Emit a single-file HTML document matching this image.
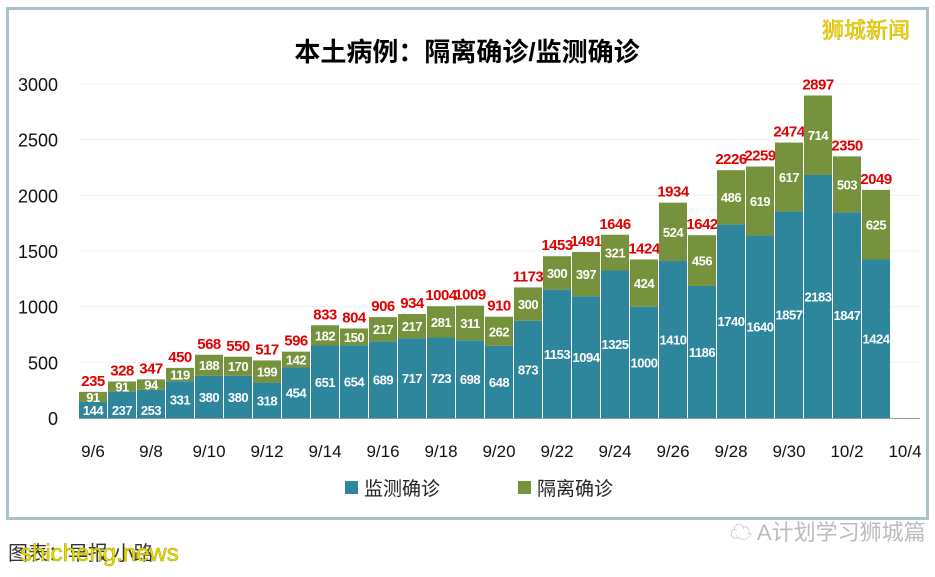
<!DOCTYPE html>
<html><head><meta charset="utf-8">
<style>
body{margin:0;background:#fff;width:935px;height:572px;overflow:hidden;font-family:"Liberation Sans","Noto Sans CJK SC",sans-serif;}
</style></head><body>
<svg id="s" width="935" height="572" xmlns="http://www.w3.org/2000/svg" font-family="Liberation Sans, Noto Sans CJK SC, sans-serif">
<rect x="0" y="0" width="935" height="572" fill="#fff"/>
<rect x="7.5" y="8.5" width="920" height="510" fill="#fff" stroke="#a9c4c8" stroke-width="3"/>
<text x="467" y="61" text-anchor="middle" font-size="26" font-weight="bold" fill="#000">本土病例：隔离确诊/监测确诊</text>
<text x="866" y="38" text-anchor="middle" font-size="22" fill="#f2e200" stroke="#c8a800" stroke-width="0.5">狮城新闻</text>
<g id="g"></g>
<line x1="79" y1="418.5" x2="920" y2="418.5" stroke="#999" stroke-width="1"/>
<rect x="345" y="481" width="13" height="13" fill="#2e869c"/>
<text x="364" y="495" font-size="19" fill="#222">监测确诊</text>
<rect x="518" y="481" width="13" height="13" fill="#76923c"/>
<text x="537" y="495" font-size="19" fill="#222">隔离确诊</text>
<text x="730" y="540" font-size="22" fill="#bbb">☁ A计划学习狮城篇</text>
<text x="8" y="560" font-size="20" fill="#333">图表：早报 小路</text>
<text x="20" y="561" font-size="24" fill="#e6e000" stroke="#aaa000" stroke-width="0.5">shicheng.news</text>
</svg>
<script>
var b=[144,237,253,331,380,380,318,454,651,654,689,717,723,698,648,873,1153,1094,1325,1000,1410,1186,1740,1640,1857,2183,1847,1424];
var q=[91,91,94,119,188,170,199,142,182,150,217,217,281,311,262,300,300,397,321,424,524,456,486,619,617,714,503,625];
var k=0.11133,base=418,h='';
for(var v=0;v<=3000;v+=500){var y=base-v*k;
 if(v>0)h+='<line x1="79" x2="920" y1="'+y+'" y2="'+y+'" stroke="#f0f0f0"/>';
 h+='<text x="58" y="'+(y+7)+'" text-anchor="end" font-size="18" fill="#111">'+v+'</text>';}
for(var i=0;i<28;i++){var x=79+i*29,w=28,cx=x+14;
 var hb=b[i]*k,hq=q[i]*k,t=b[i]+q[i];
 h+='<rect x="'+x+'" y="'+(base-hb)+'" width="'+w+'" height="'+hb+'" fill="#2e869c"/>';
 h+='<rect x="'+x+'" y="'+(base-hb-hq)+'" width="'+w+'" height="'+hq+'" fill="#76923c"/>';
 var yb=base-hb/2+5; if(b[i]<300) yb=base-3;
 h+='<text x="'+cx+'" y="'+yb+'" text-anchor="middle" font-size="13" font-weight="bold" fill="#fff" letter-spacing="-0.5">'+b[i]+'</text>';
 h+='<text x="'+cx+'" y="'+(base-hb-hq/2+5)+'" text-anchor="middle" font-size="13" font-weight="bold" fill="#fff" letter-spacing="-0.5">'+q[i]+'</text>';
 h+='<text x="'+cx+'" y="'+(base-hb-hq-6)+'" text-anchor="middle" font-size="15" font-weight="bold" fill="#e00000" letter-spacing="-0.5">'+t+'</text>';}
var labs=['9/6','9/8','9/10','9/12','9/14','9/16','9/18','9/20','9/22','9/24','9/26','9/28','9/30','10/2','10/4'];
for(var j=0;j<15;j++){h+='<text x="'+(93+j*58)+'" y="457" text-anchor="middle" font-size="17" fill="#111">'+labs[j]+'</text>';}
document.getElementById('g').innerHTML=h;
</script>
</body></html>
